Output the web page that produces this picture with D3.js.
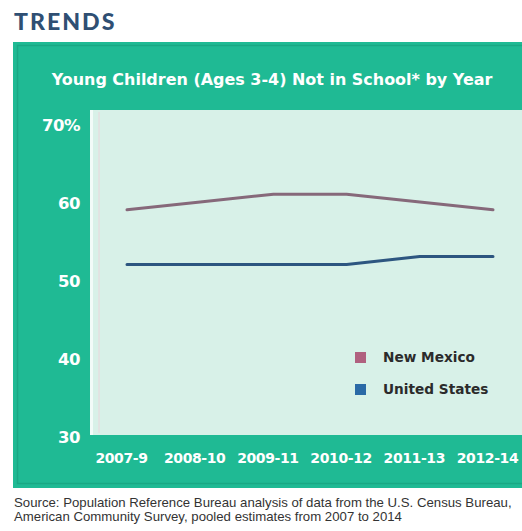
<!DOCTYPE html>
<html>
<head>
<meta charset="utf-8">
<script src="https://cdn.jsdelivr.net/npm/d3@7"></script>
<style>
  html, body { margin: 0; padding: 0; background: #ffffff; }
  svg { display: block; }
</style>
</head>
<body>
<svg id="chart" width="522" height="531"></svg>
<script>
// Young children (ages 3-4) not in school, pooled multi-year estimates (%)
const periods = ["2007-9", "2008-10", "2009-11", "2010-12", "2011-13", "2012-14"];
const newMexico = [59, 60, 61, 61, 60, 59];
const unitedStates = [52, 52, 52, 52, 53, 53];
const yTicks = [30, 40, 50, 60, 70];
const seriesNames = ["New Mexico", "United States"];

const svg = d3.select("#chart");
const teal = "#1fba94";
const mint = "#d8f1e8";
const boldFont = "'DejaVu Sans', Lato, sans-serif";

// Scale a text element's font size so that its rendered width equals `width`
function fitWidth(sel, width) {
  sel.each(function () {
    const len = this.getComputedTextLength();
    const fs = parseFloat(d3.select(this).attr("font-size"));
    if (len > 0) d3.select(this).attr("font-size", (fs * width / len).toFixed(2));
  });
}

// Section heading
const heading = svg.append("text")
  .attr("x", 14).attr("y", 30)
  .attr("font-family", "Lato, 'Open Sans', sans-serif")
  .attr("font-weight", 900)
  .attr("font-size", 22)
  .attr("letter-spacing", 2)
  .attr("fill", "#2f4f73")
  .text("TRENDS");
fitWidth(heading, 103);

// Teal panel
svg.append("rect")
  .attr("x", 13).attr("y", 42).attr("width", 522 - 13).attr("height", 446)
  .attr("fill", teal);
svg.append("rect")
  .attr("x", 17.5).attr("y", 45.5).attr("width", 510).attr("height", 438)
  .attr("fill", "none").attr("stroke", "#19a884").attr("stroke-width", 1.5);

const title = svg.append("text")
  .attr("x", 272).attr("y", 85)
  .attr("text-anchor", "middle")
  .attr("font-family", boldFont)
  .attr("font-weight", 700)
  .attr("font-size", 15)
  .attr("fill", "#ffffff")
  .text("Young Children (Ages 3-4) Not in School* by Year");
fitWidth(title, 441);

// Plot area
const plot = { left: 90, right: 522, top: 110, bottom: 435 };
svg.append("rect")
  .attr("x", plot.left).attr("y", plot.top)
  .attr("width", plot.right - plot.left).attr("height", plot.bottom - plot.top)
  .attr("fill", mint);
svg.append("line")
  .attr("x1", plot.left + 1.5).attr("x2", plot.left + 1.5)
  .attr("y1", plot.top).attr("y2", plot.bottom)
  .attr("stroke", "#f2fbf8").attr("stroke-width", 3);
svg.append("line")
  .attr("x1", plot.left + 9).attr("x2", plot.left + 9)
  .attr("y1", plot.top + 2).attr("y2", plot.bottom - 2)
  .attr("stroke", "#ead6dc").attr("stroke-width", 1);

const x = d3.scalePoint().domain(periods).range([127, 493]);
const y = d3.scaleLinear().domain([30, 70]).range([436, 124]);

// Y axis labels
const yAxis = d3.axisLeft(y).tickValues(yTicks).tickSize(0).tickPadding(0)
  .tickFormat(d => d === 70 ? d + "%" : d);
const gy = svg.append("g").attr("transform", "translate(80,1)").call(yAxis);
gy.select(".domain").remove();
gy.selectAll("text")
  .attr("font-family", boldFont)
  .attr("font-weight", 700)
  .attr("font-size", 16.5)
  .attr("letter-spacing", -0.5)
  .attr("fill", "#ffffff");

// X axis labels
const xAxis = d3.axisBottom(x).tickSize(0).tickPadding(0);
const gx = svg.append("g").attr("transform", "translate(-6,453)").call(xAxis);
gx.select(".domain").remove();
gx.selectAll("text")
  .attr("font-family", boldFont)
  .attr("font-weight", 700)
  .attr("font-size", 14)
  .attr("letter-spacing", -0.4)
  .attr("fill", "#ffffff");

// Series lines
const line = d3.line().x((d, i) => x(periods[i])).y(d => y(d));
const series = [
  { name: seriesNames[0], values: newMexico, line: "#86697a", swatch: "#b0617f" },
  { name: seriesNames[1], values: unitedStates, line: "#2d5680", swatch: "#2a6aa6" }
];
series.forEach(s => {
  svg.append("path")
    .datum(s.values)
    .attr("d", line)
    .attr("fill", "none")
    .attr("stroke", s.line)
    .attr("stroke-width", 3)
    .attr("stroke-linecap", "round")
    .attr("stroke-linejoin", "round");
});

// Legend
const legend = svg.append("g").attr("transform", "translate(355,352)");
series.forEach((s, i) => {
  const g = legend.append("g").attr("transform", `translate(0,${i * 32})`);
  g.append("rect").attr("width", 11).attr("height", 11).attr("fill", s.swatch);
  g.append("text")
    .attr("x", 28).attr("y", 10)
    .attr("font-family", boldFont)
    .attr("font-weight", 700)
    .attr("font-size", 12)
    .attr("fill", "#2b2b2b")
    .text(s.name);
});
fitWidth(legend.select("text"), 92);
legend.selectAll("text").attr("font-size", legend.select("text").attr("font-size"));

// Source note
const sourceFont = "'Liberation Sans Narrow', 'Liberation Sans', sans-serif";
const src1 = svg.append("text").attr("x", 14).attr("y", 507)
  .attr("font-family", sourceFont)
  .attr("font-size", 11)
  .attr("fill", "#333333")
  .text("Source: Population Reference Bureau analysis of data from the U.S. Census Bureau,");
fitWidth(src1, 498);
svg.append("text").attr("x", 14).attr("y", 521)
  .attr("font-family", sourceFont)
  .attr("font-size", src1.attr("font-size"))
  .attr("fill", "#333333")
  .text("American Community Survey, pooled estimates from 2007 to 2014");
</script>
</body>
</html>
